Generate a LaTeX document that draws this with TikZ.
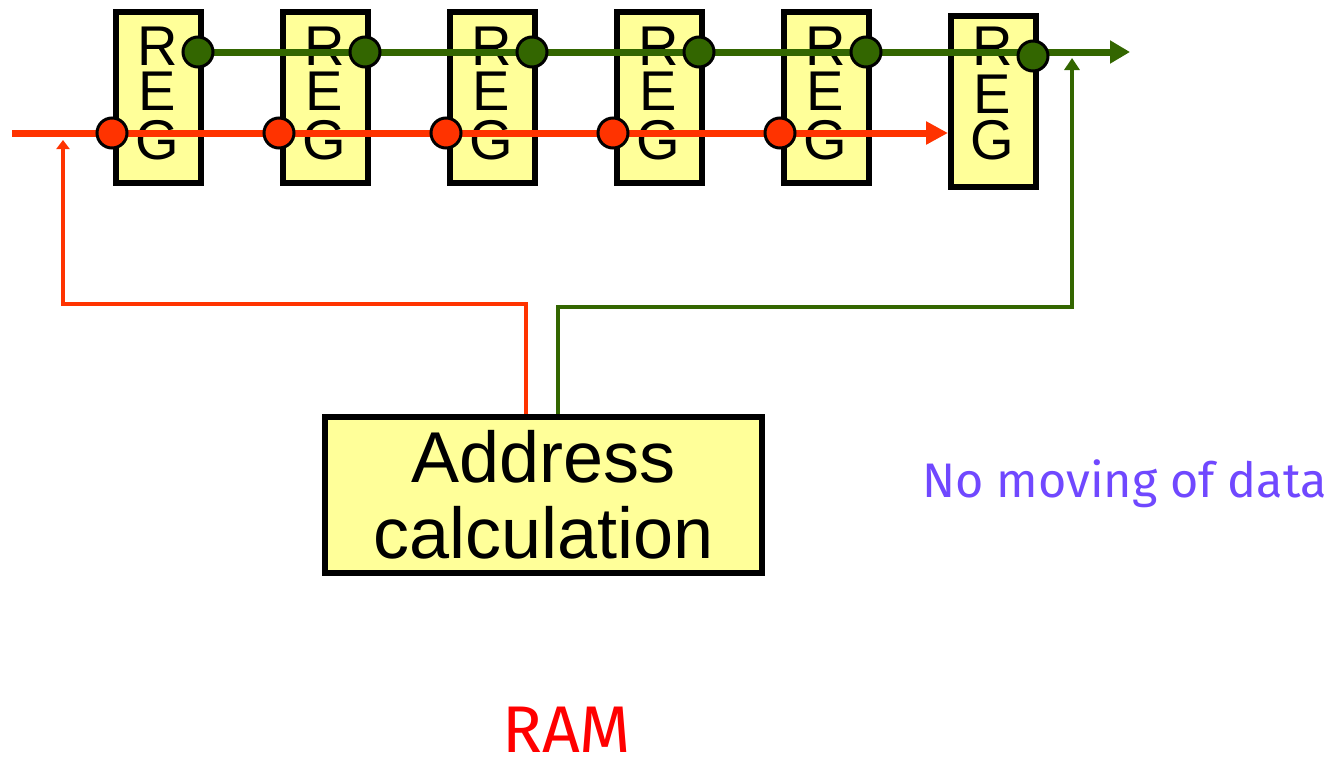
\documentclass[tikz,border=0pt]{standalone}
\usepackage{fontspec}
\setmainfont{Liberation Sans}
\newfontfamily\notefont{Fira Sans}
\usetikzlibrary{arrows.meta,calc}
\definecolor{regyellow}{HTML}{FFFF99}
\definecolor{addrred}{HTML}{FF3300}
\definecolor{datagreen}{HTML}{336600}
\definecolor{notepurple}{HTML}{7048FF}
\definecolor{ramred}{HTML}{FF0000}
\begin{document}
\begin{tikzpicture}[x=1pt,y=-1pt,
  regbox/.style={draw=black,line width=6pt,fill=regyellow,minimum width=85pt,minimum height=171pt,inner sep=0pt,anchor=north west},
  regtext/.style={font=\fontsize{56}{47.5}\selectfont,inner sep=0pt,anchor=base},
  addrbox/.style={draw=black,line width=6pt,fill=regyellow,minimum width=437pt,minimum height=156pt,align=center,font=\fontsize{72}{76}\selectfont,inner sep=0pt},
  rdot/.style={circle,draw=black,line width=3pt,fill=addrred,minimum size=30pt,inner sep=0pt},
  gdot/.style={circle,draw=black,line width=3pt,fill=datagreen,minimum size=30pt,inner sep=0pt},
  rline/.style={draw=addrred,line width=7pt},
  gline/.style={draw=datagreen,line width=7pt},
  rfb/.style={draw=addrred,line width=4.5pt},
  gfb/.style={draw=datagreen,line width=4pt},
  note/.style={inner sep=0pt,anchor=base west}
]
\useasboundingbox (0,0) rectangle (1336,758);
% register boxes
\foreach \i in {1,...,5} {
  \pgfmathsetmacro\xl{113+167*(\i-1)}
  \node[regbox] (reg\i) at (\xl,9) {};
  \node[regtext] (tr\i) at ($(reg\i.north)+(-1,56)$) {R};
  \node[regtext] (te\i) at ($(reg\i.north)+(-1,101)$) {E};
  \node[regtext] (tg\i) at ($(reg\i.north)+(-1,150)$) {G};
}
\node[regbox] (reg6) at (948,13) {};
\node[regtext] (tr6) at ($(reg6.north)+(-1,52)$) {R};
\node[regtext] (te6) at ($(reg6.north)+(-1,100)$) {E};
\node[regtext] (tg6) at ($(reg6.north)+(-1,146)$) {G};
% address box position
\coordinate (addrc) at (543.5,495);
% feedback lines
\coordinate (rfbend) at (63,140);
\coordinate (gfbend) at (1072,58);
\draw[rfb,-{Triangle[length=9pt,width=13pt]}] ($(addrc)+(-17.5,-81)$) |- (63,304) -- (rfbend);
\draw[gfb,-{Triangle[length=12pt,width=15pt]}] ($(addrc)+(14.5,-81)$) |- (1072,307) -- (gfbend);
\node[addrbox] (addr) at (addrc) {Address\\calculation};
% main lines
\coordinate (rstart) at (12,133);
\coordinate (gend) at (1130,52);
\draw[rline,-{Triangle[length=22pt,width=22pt]}] (rstart) -- (reg6.west |- rstart);
\foreach \i in {1,...,6} {
  \coordinate (g\i) at ($(reg\i.north west)+(85,43)$);
}
\draw[gline,-{Triangle[length=20pt,width=22pt]}] (g1) -- (gend);
\foreach \i in {1,...,6} {
  \node[gdot] (gd\i) at (g\i) {};
}
\foreach \i in {1,...,5} {
  \node[rdot] (r\i) at ($(reg\i.north west |- rstart)+(-1,0)$) {};
}
% notes
\node[note,font=\notefont\fontsize{48.5}{56}\selectfont,text=notepurple] (nomove) at (922,497) {No moving of data};
\node[note,font=\notefont\fontsize{66}{72}\selectfont,text=ramred] (ram) at (502,752) {RAM};
\end{tikzpicture}
\end{document}
